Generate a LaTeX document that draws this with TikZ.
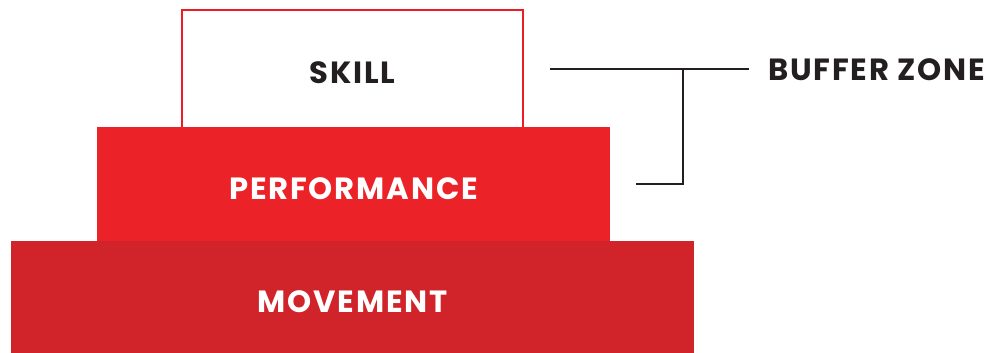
\documentclass[tikz,border=0pt]{standalone}
\usepackage{fontspec}
\setmainfont{Poppins}[LetterSpace=6]
\usepackage{tikz}
\usetikzlibrary{positioning}

\definecolor{skillred}{RGB}{237,28,36}
\definecolor{perfred}{RGB}{236,34,41}
\definecolor{movered}{RGB}{208,35,42}
\definecolor{inkgray}{RGB}{35,31,32}

\tikzset{
  tier/.style={inner sep=0pt, text height=22.5pt, text depth=0pt,
    font=\fontsize{23}{23}\selectfont\bfseries},
  skillbox/.style={tier, draw=skillred, line width=1.5pt, fill=white, text=inkgray},
  perfbox/.style={tier, fill=perfred, text=white},
  movebox/.style={tier, fill=movered, text=white},
  bracket/.style={draw=inkgray, line width=1.5pt},
}

\begin{document}
\begin{tikzpicture}[x=0.75pt,y=0.75pt,yscale=-1,xscale=1]
\useasboundingbox (0,0) rectangle (1003,353);

%Tiers
\node[skillbox, minimum width=255.75pt, minimum height=88.5pt] (skill) at (352.5,69) {SKILL};
\node[perfbox, minimum width=384.75pt, minimum height=86.25pt] (perf) at (353.5,184) {PERFORMANCE};
\node[movebox, minimum width=512.25pt, minimum height=84.75pt] (move) at (352.5,297.5) {MOVEMENT};

%Label
\node[anchor=west, inner xsep=14.25pt, inner ysep=0pt, text height=16.5pt, text depth=0pt,
  font=\fontsize{23}{23}\selectfont\bfseries, text=inkgray] (buffer) at (749,69) {BUFFER ZONE};

%Bracket
\coordinate (fork) at (683,69);
\draw[bracket] ([xshift=19.5pt]skill.east) -- (buffer.west);
\draw[bracket] ([xshift=19.5pt]perf.east) -| (fork);

\end{tikzpicture}
\end{document}
